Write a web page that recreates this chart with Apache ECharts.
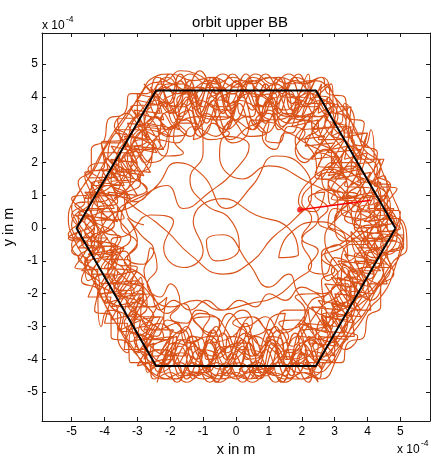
<!DOCTYPE html>
<html>
<head>
<meta http-equiv="Content-Type" content="text/html; charset=UTF-8">
<title>orbit upper BB</title>
<script type="text/javascript" src="https://cdn.jsdelivr.net/npm/echarts@6/dist/echarts.min.js"></script>
<style>
  html, body { margin: 0; padding: 0; background: #fff; }
</style>
</head>
<body>
    <div id="main" style="width: 431px; height: 458px;"></div>
    <script type="text/javascript">
        // coordinates in units of 1e-4 m (the axes say "x 10^-4")
        var xTicks = [-5, -4, -3, -2, -1, 0, 1, 2, 3, 4, 5];
        var yTicks = [-5, -4, -3, -2, -1, 0, 1, 2, 3, 4, 5];

        // hexagon boundary
        var hexX = [4.85, 2.43, -2.43, -4.85, -2.43, 2.43, 4.85];
        var hexY = [0, 4.2, 4.2, 0, -4.2, -4.2, 0];

        // red arrow: tail -> head (dot)
        var arrowX = [4.1, 1.95];
        var arrowY = [0.85, 0.56];

        // orbit (units 1e-4 m)
        var passA = [[4.5,-0.3],[4.2,0.4],[4.4,1.0],[3.9,1.5],[3.5,1.3],[3.7,1.9],[3.4,2.6],[2.9,2.9],[3.1,3.4],[2.6,3.9],[2.0,3.7],[1.6,4.2],[1.0,4.0],[0.8,3.4],[1.2,3.2],[1.1,3.7],[0.4,4.1],[-0.2,3.8],[-0.7,4.3],[-1.4,4.0],[-1.9,3.5],[-2.4,3.9],[-2.8,3.4],[-2.7,2.7],[-3.3,2.5],[-3.6,2.9],[-3.9,2.2],[-3.4,1.7],[-3.9,1.2],[-4.5,0.8],[-4.3,0.1],[-4.7,-0.4],[-4.1,-0.9],[-3.6,-1.4],[-4.0,-1.9],[-3.4,-2.4],[-2.9,-2.1],[-3.1,-2.9],[-2.6,-3.6],[-2.0,-3.9],[-1.6,-3.4],[-1.0,-3.8],[-0.5,-4.3],[0.1,-3.9],[0.6,-3.3],[1.1,-3.7],[1.7,-4.2],[2.3,-3.8],[2.8,-3.3],[2.6,-2.7],[3.2,-2.5],[3.7,-2.0],[3.4,-1.4],[4.1,-1.1]];
        var passB = [[4.9,-0.2],[4.7,0.5],[4.3,1.3],[4.4,1.9],[3.9,2.4],[3.6,3.1],[3.2,3.6],[2.8,4.3],[2.3,4.5],[1.6,4.4],[1.0,4.6],[0.5,4.4],[-0.1,4.6],[-0.6,4.4],[-1.2,4.7],[-1.7,4.8],[-2.1,4.5],[-2.6,4.4],[-3.0,3.9],[-3.4,3.4],[-3.8,2.8],[-4.2,2.1],[-4.5,1.5],[-4.9,0.9],[-5.1,0.3],[-4.9,-0.4],[-4.5,-1.1],[-4.2,-1.8],[-3.9,-2.5],[-3.5,-3.1],[-3.1,-3.7],[-2.7,-4.3],[-2.2,-4.6],[-1.6,-4.4],[-1.0,-4.6],[-0.3,-4.4],[0.4,-4.6],[1.1,-4.4],[1.8,-4.6],[2.4,-4.5],[2.8,-4.0],[3.3,-3.4],[3.6,-2.8],[4.0,-2.2],[4.4,-1.6],[4.8,-1.0],[5.2,-0.6]];
        var passC = [[3.3,-0.4],[3.0,0.3],[3.4,0.8],[3.0,1.4],[2.4,1.6],[2.6,2.2],[2.1,2.6],[1.5,2.9],[1.2,2.4],[0.8,2.8],[1.0,3.3],[0.4,3.1],[-0.2,2.7],[-0.7,3.2],[-1.1,2.8],[-1.5,3.3],[-2.0,2.9],[-2.1,2.3],[-2.6,2.0],[-3.0,2.4],[-3.2,1.7],[-2.7,1.2],[-3.3,0.8],[-3.5,0.1],[-3.0,-0.5],[-3.4,-1.0],[-2.8,-1.5],[-2.5,-2.1],[-2.1,-2.6],[-1.6,-2.3],[-1.2,-2.9],[-0.7,-3.2],[-0.2,-2.6],[0.3,-3.0],[0.9,-2.7],[1.4,-3.2],[2.0,-2.8],[2.3,-2.2],[2.8,-2.0],[3.1,-1.4],[2.6,-0.9],[3.2,-0.6]];
        var passD = [[4.6,0.4],[4.0,-0.4],[4.5,-1.2],[4.1,-1.9],[3.5,-2.3],[3.3,-3.0],[2.8,-3.6],[2.2,-4.3],[1.5,-3.9],[0.9,-4.5],[0.4,-4.0],[-0.3,-3.6],[-0.9,-4.2],[-1.5,-4.5],[-2.0,-4.0],[-2.5,-4.2],[-2.9,-3.4],[-3.4,-2.9],[-3.0,-2.3],[-3.7,-2.0],[-4.4,-1.4],[-4.0,-0.7],[-4.6,-0.1],[-4.2,0.6],[-4.4,1.3],[-3.7,1.6],[-3.5,2.3],[-3.1,3.0],[-2.5,3.4],[-2.2,4.2],[-1.6,4.4],[-1.0,3.7],[-0.4,4.2],[0.2,4.5],[0.8,4.1],[1.5,3.6],[2.1,4.2],[2.6,3.6],[3.1,2.9],[3.6,2.6],[3.5,1.8],[4.1,1.4],[4.6,0.9]];
        var passE = [[4.0,0.2],[4.4,0.6],[4.0,1.0],[3.7,0.6],[4.1,0.3],[3.8,1.4],[3.2,2.0],[3.5,2.5],[3.8,2.1],[3.4,1.8],[2.9,2.4],[2.5,3.2],[2.9,3.6],[2.4,4.0],[1.9,3.4],[1.3,3.7],[1.6,4.1],[1.9,3.8],[1.2,3.3],[0.6,3.6],[0.2,4.2],[-0.3,4.0],[-0.1,3.5],[-0.6,3.3],[-1.2,3.7],[-1.0,4.2],[-1.5,4.3],[-1.7,3.8],[-2.3,3.3],[-2.0,2.8],[-2.7,3.0],[-3.2,2.2],[-2.9,1.6],[-3.5,1.4],[-3.9,1.8],[-4.1,1.2],[-3.6,0.6],[-3.9,0.0],[-4.4,-0.3],[-4.2,-0.8],[-3.7,-0.7],[-3.9,-1.3],[-3.5,-2.0],[-3.0,-2.6],[-2.7,-3.1],[-3.1,-3.4],[-2.4,-3.9],[-1.9,-3.5],[-1.3,-3.9],[-1.5,-4.3],[-0.9,-4.4],[-0.4,-3.7],[0.3,-3.5],[0.6,-4.0],[0.1,-4.3],[0.8,-4.4],[1.4,-3.9],[1.9,-3.3],[2.5,-3.6],[2.4,-4.1],[2.9,-3.7],[3.4,-2.8],[3.0,-2.2],[3.6,-1.7],[4.2,-1.4],[3.9,-0.8],[4.5,-0.5]];
        var passF = [[5.0,0.3],[4.8,0.9],[4.5,1.6],[4.2,2.3],[3.7,2.8],[3.4,3.5],[3.0,4.0],[2.6,4.6],[2.0,4.4],[1.3,4.6],[0.6,4.5],[0.0,4.3],[-0.7,4.6],[-1.3,4.5],[-2.0,4.7],[-2.5,4.6],[-2.9,4.1],[-3.2,3.6],[-3.6,3.0],[-4.0,2.4],[-4.3,1.8],[-4.7,1.2],[-5.0,0.6],[-4.8,0.0],[-5.0,-0.5],[-4.7,-1.0],[-4.4,-1.5],[-4.0,-2.3],[-3.7,-2.8],[-3.3,-3.5],[-2.9,-4.0],[-2.4,-4.5],[-1.9,-4.6],[-1.2,-4.4],[-0.6,-4.6],[0.1,-4.5],[0.8,-4.3],[1.5,-4.6],[2.1,-4.4],[2.6,-4.6],[3.1,-3.9],[3.4,-3.2],[3.9,-2.6],[4.2,-2.0],[4.6,-1.4],[5.0,-0.8],[5.1,-0.2]];
        var passG = [[4.3,0.3],[3.2,0.9],[2.2,1.4],[1.0,1.9],[0.2,1.5],[-0.5,2.2],[-0.3,2.8],[0.4,2.5],[0.0,1.8],[-0.8,1.1],[-1.6,0.6],[-2.1,1.3],[-2.8,1.0],[-3.6,0.4]];
        var passH = [[-3.2,-0.3],[-3.8,-0.9],[-3.3,-1.6],[-2.8,-1.9],[-2.9,-2.6],[-2.4,-3.1],[-1.8,-2.9],[-1.5,-3.5],[-0.8,-3.3],[-0.3,-3.8],[0.3,-3.2],[0.8,-3.6],[1.3,-3.1],[1.7,-3.6],[2.1,-3.1],[2.6,-2.4],[3.2,-1.9],[2.9,-1.3],[3.6,-0.9],[3.9,-0.3],[3.5,0.5],[3.9,1.1],[3.3,1.6],[3.0,2.3],[2.4,2.7],[2.2,3.3],[1.6,3.2],[1.0,3.6],[0.5,3.0],[-0.1,3.3],[-0.6,2.8],[-1.3,3.1],[-1.8,2.6],[-2.4,2.7],[-2.6,2.1],[-3.2,1.3],[-3.7,0.9],[-2.6,2.6],[-1.2,3.4]];
        var passI = [[-1.0,2.3],[-1.4,1.5],[-0.9,0.7],[-0.2,0.3],[0.1,-0.6],[-0.6,-1.0],[-0.9,-0.4],[-0.4,-0.2],[0.4,-1.1],[1.0,-1.8],[1.6,-1.4],[1.9,-2.0],[2.5,-2.6]];
        var passJ = [[3.0,-2.7],[3.8,-2.3],[4.3,-1.8],[4.7,-1.2],[4.4,-0.5],[4.9,0.1],[4.6,0.7],[4.1,1.2],[4.3,1.8],[3.8,2.3],[3.4,2.9],[3.3,3.4],[2.7,3.6],[2.4,4.2],[1.8,4.0],[1.2,4.4],[0.6,4.0],[0.1,4.4],[-0.5,3.9],[-1.1,4.3],[-1.8,4.1],[-2.3,4.4],[-2.6,3.7],[-3.1,3.3],[-3.4,2.7],[-4.1,2.6],[-4.0,1.9],[-4.6,1.6],[-4.4,0.9],[-4.8,0.3],[-4.4,-0.5],[-4.8,-0.9],[-4.2,-1.4],[-4.1,-2.1],[-3.6,-2.5],[-3.6,-3.1],[-3.0,-3.2],[-2.6,-3.9],[-2.3,-4.4],[-1.7,-4.1],[-1.2,-4.5],[-0.6,-4.1],[0.0,-4.6],[0.6,-4.2],[1.2,-4.5],[1.9,-4.1],[2.5,-4.4],[2.9,-4.1],[3.2,-3.6],[3.7,-3.0],[4.1,-2.4],[4.4,-2.1],[4.7,-1.6]];
        var passK = [[4.2,-0.9],[3.4,-0.2],[2.5,0.2],[1.6,-0.2],[1.3,-0.9],[1.9,-0.8],[1.6,0.0],[0.6,0.4],[-0.4,0.9],[-1.3,0.2],[-1.0,-0.7],[-1.6,-1.2],[-2.2,-0.6],[-1.9,0.2],[-2.6,0.4],[-3.3,-0.2]];
        var passL = [[-3.8,-0.4],[-3.6,-1.1],[-3.0,-1.2],[-3.2,-1.8],[-2.6,-2.4],[-2.1,-2.1],[-2.2,-2.8],[-1.7,-3.2],[-1.1,-2.6],[-0.5,-2.9],[-0.8,-3.5],[-0.1,-3.3],[0.5,-2.7],[1.0,-3.1],[1.5,-2.5],[2.2,-2.5],[2.0,-3.1],[2.7,-3.0],[3.0,-2.4],[3.5,-2.1],[3.3,-1.2],[2.8,-1.6],[2.6,-0.8],[3.3,-0.4],[3.8,0.3],[3.4,1.0],[2.9,0.7],[2.8,1.3],[3.2,1.9],[2.7,2.4],[2.2,2.1],[1.8,2.7],[2.1,3.2],[1.5,3.5],[0.9,2.9],[0.3,3.4],[-0.3,3.0],[-0.9,3.5],[-1.4,2.8],[-1.9,3.1],[-2.3,2.4],[-2.9,2.7],[-3.3,2.1],[-2.9,1.4],[-3.5,1.0],[-4.1,0.5]];
        var passM = [[-4.6,0.2],[-4.3,-0.4],[-4.6,-1.2],[-4.1,-1.7],[-3.8,-2.4],[-3.3,-2.7],[-3.1,-3.3],[-2.8,-3.9],[-2.2,-4.2],[-1.7,-3.8],[-1.1,-4.1],[-0.5,-4.5],[0.1,-4.1],[0.7,-4.5],[1.3,-4.1],[1.9,-4.4],[2.2,-3.9],[2.7,-3.9],[3.1,-3.3],[3.5,-2.6],[3.9,-2.0],[4.3,-1.3],[4.6,-0.6],[4.4,0.0],[4.7,0.6],[4.3,1.5],[4.0,2.0],[3.6,2.3],[3.5,3.0],[3.0,3.3],[2.9,3.9],[2.3,4.1],[1.8,4.5],[1.1,4.2],[0.5,4.5],[-0.1,4.1],[-0.8,4.5],[-1.5,4.2],[-2.0,4.4],[-2.5,4.1],[-2.8,3.7],[-3.3,3.1],[-3.6,2.5],[-4.0,2.0],[-4.3,1.4],[-4.6,0.9]];
        var passN = [[-3.8,1.0],[-2.9,0.5],[-2.1,-0.1],[-1.4,-0.8],[-0.4,-1.4],[0.5,-1.0],[1.1,-0.3],[1.8,0.3],[2.3,1.0],[2.0,1.9],[1.2,2.2],[0.5,1.3],[-0.3,0.6],[-1.0,1.6],[-1.8,2.0],[-2.4,1.3],[-3.1,0.7],[-3.9,0.3]];
        var passO = [[-4.2,-0.5],[-3.5,-0.6],[-3.7,-1.5],[-3.1,-1.9],[-3.3,-2.3],[-2.7,-2.8],[-2.2,-3.3],[-2.6,-3.7],[-1.9,-4.2],[-1.3,-3.6],[-0.7,-3.9],[-0.1,-3.6],[0.5,-3.9],[1.1,-3.4],[1.6,-3.8],[2.2,-3.4],[2.6,-3.1],[3.3,-2.3],[3.9,-1.7],[3.7,-1.1],[4.3,-0.9],[4.1,-0.2],[3.6,0.0],[3.7,0.6],[4.2,0.8],[4.0,1.5],[3.5,2.1],[3.1,2.6],[2.7,3.2],[3.0,3.6],[2.5,3.4],[2.0,3.9],[1.3,4.0],[0.7,3.7],[0.1,3.9],[-0.5,3.6],[-1.1,3.9],[-1.7,3.4],[-2.1,3.8],[-2.6,3.2],[-3.0,2.8],[-3.3,2.3],[-3.8,1.7],[-4.2,1.0],[-4.4,0.5]];
        var passP = [[-4.0,-0.2],[-3.4,-1.0],[-2.8,-1.8],[-2.0,-2.4],[-1.2,-2.2],[-0.5,-2.5],[0.4,-2.3],[1.2,-2.1],[1.8,-1.6],[2.3,-1.1],[2.0,-0.4],[2.5,0.3],[2.2,0.9],[2.7,1.1],[2.4,0.5],[1.9,0.8],[2.3,1.5],[2.9,1.8],[3.4,1.2],[3.1,0.4],[2.7,-0.3],[3.0,-1.0],[3.6,-1.5],[4.1,-0.6],[4.6,0.1]];

        // band passes written in tenths (units 1e-5 m)
        var zig1 = [[49,3],[39,2],[46,10],[36,9],[41,17],[30,15],[38,24],[28,23],[33,31],[23,30],[30,38],[21,38],[24,45],[17,36],[14,46],[8,35],[4,45],[-2,36],[-6,46],[-11,35],[-14,45],[-19,37],[-23,46],[-21,37],[-30,39],[-24,31],[-33,32],[-29,23],[-38,25],[-31,15],[-41,18],[-36,10],[-46,11],[-39,3],[-49,4],[-43,-2],[-49,-3],[-39,-3],[-46,-10],[-36,-8],[-41,-17],[-30,-16],[-38,-24],[-28,-22],[-33,-31],[-23,-29],[-30,-38],[-21,-37],[-24,-45],[-17,-36],[-13,-46],[-8,-35],[-3,-45],[2,-36],[7,-46],[11,-35],[15,-45],[19,-37],[23,-46],[21,-37],[30,-39],[24,-31],[33,-32],[29,-23],[38,-25],[31,-15],[41,-18],[36,-10],[46,-11],[39,-3],[49,-4]];
        var zig2 = [[46,4],[36,2],[42,11],[32,9],[38,18],[28,16],[34,25],[24,23],[30,31],[20,30],[26,38],[19,33],[15,43],[9,32],[5,42],[0,33],[-4,43],[-9,32],[-13,42],[-17,33],[-21,43],[-26,38],[-20,30],[-30,31],[-24,23],[-34,25],[-28,16],[-38,18],[-32,9],[-42,11],[-36,2],[-46,4],[-41,-3],[-45,-8],[-34,-6],[-40,-15],[-30,-13],[-36,-21],[-26,-20],[-32,-28],[-22,-27],[-27,-36],[-18,-33],[-19,-42],[-13,-33],[-9,-43],[-4,-32],[1,-42],[5,-33],[10,-43],[14,-32],[18,-42],[22,-34],[27,-37],[21,-29],[31,-30],[25,-22],[35,-24],[29,-15],[39,-17],[33,-8],[43,-10],[37,-1],[47,-2]];
        var zig3 = [[51,-2],[42,-5],[47,-12],[38,-12],[42,-20],[33,-19],[38,-27],[29,-26],[34,-34],[25,-33],[29,-41],[21,-41],[25,-47],[19,-38],[14,-47],[9,-37],[4,-46],[-1,-38],[-6,-47],[-10,-37],[-15,-46],[-19,-38],[-24,-47],[-22,-40],[-30,-42],[-25,-33],[-34,-35],[-30,-26],[-38,-28],[-33,-19],[-42,-20],[-37,-12],[-47,-13],[-41,-5],[-51,-3],[-43,2],[-49,7],[-39,9],[-45,15],[-35,16],[-41,23],[-31,23],[-37,30],[-27,30],[-32,37],[-23,38],[-28,44],[-21,38],[-17,47],[-12,37],[-7,46],[-2,38],[3,47],[8,37],[13,46],[17,38],[22,47],[23,39],[29,44],[30,35],[35,37],[34,28],[40,29],[37,21],[44,21],[40,14],[47,13],[42,6],[50,5]];
        var zig4 = [[40,-1],[33,3],[37,8],[29,9],[34,15],[26,15],[31,22],[23,21],[27,28],[19,27],[23,35],[16,33],[19,39],[13,30],[10,39],[5,30],[1,38],[-4,29],[-8,38],[-12,30],[-16,38],[-19,31],[-22,35],[-24,28],[-28,30],[-29,22],[-34,22],[-32,15],[-38,14],[-36,8],[-42,6],[-37,1],[-43,-3],[-36,-6],[-40,-12],[-32,-13],[-36,-20],[-28,-20],[-32,-27],[-23,-27],[-27,-34],[-19,-33],[-20,-40],[-15,-30],[-11,-39],[-6,-30],[-2,-40],[3,-29],[7,-39],[12,-30],[16,-40],[20,-31],[23,-36],[26,-28],[29,-31],[30,-22],[34,-24],[33,-15],[39,-16],[36,-8],[42,-7],[38,0]];
        var zig5 = [[47,-1],[38,-5],[44,-13],[35,-13],[40,-21],[31,-20],[36,-29],[27,-27],[31,-36],[23,-35],[26,-43],[20,-38],[17,-45],[12,-36],[8,-44],[4,-35],[0,-45],[-5,-36],[-9,-44],[-13,-35],[-17,-45],[-21,-37],[-26,-44],[-25,-35],[-31,-38],[-29,-28],[-35,-31],[-33,-21],[-40,-23],[-37,-14],[-44,-14],[-40,-6],[-48,-6],[-43,0],[-48,5],[-40,6],[-44,13],[-35,13],[-40,21],[-31,20],[-36,29],[-27,27],[-31,36],[-23,35],[-26,43],[-20,38],[-17,45],[-12,36],[-8,44],[-4,35],[0,45],[5,36],[9,44],[13,35],[17,45],[21,37],[26,44],[25,35],[31,38],[29,28],[35,31],[33,21],[40,23],[37,14],[44,14],[40,6],[48,6],[43,0]];
        var zig6 = [[40,2],[32,5],[37,10],[29,12],[33,18],[25,19],[30,26],[21,25],[25,33],[17,31],[20,39],[14,31],[11,40],[6,31],[2,40],[-3,30],[-7,39],[-11,31],[-15,40],[-19,32],[-21,39],[-17,30],[-27,32],[-22,24],[-31,25],[-26,17],[-35,18],[-30,10],[-39,11],[-34,3],[-43,2],[-36,-3],[-41,-9],[-32,-10],[-37,-17],[-28,-17],[-33,-24],[-24,-24],[-28,-31],[-19,-31],[-23,-38],[-16,-31],[-12,-40],[-7,-31],[-3,-40],[2,-30],[6,-39],[10,-31],[14,-40],[18,-32],[22,-39],[19,-29],[28,-32],[23,-24],[32,-25],[27,-17],[36,-18],[31,-10],[40,-11],[35,-3],[43,-3]];
        var zig7 = [[51,-6],[44,-9],[46,-17],[40,-17],[41,-25],[35,-25],[36,-33],[30,-33],[30,-41],[25,-40],[22,-47],[17,-41],[12,-47],[7,-41],[2,-47],[-3,-41],[-8,-47],[-13,-41],[-18,-47],[-22,-41],[-27,-44],[-28,-37],[-34,-37],[-33,-29],[-40,-29],[-38,-21],[-45,-21],[-42,-13],[-49,-12],[-45,-5],[-51,-2],[-46,4],[-50,9],[-43,11],[-46,17],[-39,18],[-41,26],[-35,26],[-36,33],[-30,34],[-30,41],[-25,40],[-20,47],[-16,41],[-11,48],[-6,41],[-1,47],[4,41],[9,47],[14,41],[19,47],[23,41],[28,44],[29,37],[34,37],[33,29],[40,29],[38,21],[45,21],[42,13],[49,12],[45,5],[50,0]];
        var zig8 = [[43,-1],[44,5],[37,6],[41,12],[33,13],[37,20],[29,20],[33,27],[25,27],[28,34],[20,34],[22,41],[17,34],[12,42],[8,34],[3,42],[-2,34],[-6,43],[-11,34],[-15,42],[-20,35],[-24,41],[-22,33],[-30,35],[-26,27],[-34,28],[-30,20],[-38,21],[-34,13],[-42,14],[-37,6],[-45,6],[-42,-1],[-44,-5],[-37,-6],[-41,-12],[-33,-13],[-37,-20],[-29,-20],[-33,-27],[-25,-27],[-28,-34],[-20,-34],[-22,-41],[-17,-34],[-12,-42],[-8,-34],[-3,-42],[2,-34],[6,-43],[11,-34],[15,-42],[20,-35],[24,-41],[22,-33],[30,-35],[26,-27],[34,-28],[30,-20],[38,-21],[34,-13],[42,-14],[37,-6],[45,-6],[42,1]];
        var curl1 = [[46,0],[50,-4],[46,-8],[42,-4],[44,-10],[40,-15],[44,-18],[41,-22],[36,-18],[36,-25],[33,-31],[37,-33],[33,-37],[29,-33],[26,-38],[24,-43],[20,-46],[17,-42],[21,-39],[16,-37],[11,-41],[7,-46],[4,-43],[8,-39],[2,-37],[-3,-42],[-5,-46],[-9,-43],[-6,-39],[-11,-37],[-15,-42],[-18,-46],[-22,-43],[-19,-39],[-24,-37],[-28,-40],[-27,-34],[-32,-32],[-33,-38],[-36,-33],[-35,-27],[-39,-25],[-41,-30],[-42,-21],[-37,-19],[-40,-14],[-45,-16],[-46,-10],[-42,-7],[-47,-4],[-50,1],[-47,5],[-43,2],[-45,9],[-41,14],[-45,18],[-40,20],[-37,16],[-36,23],[-33,28],[-37,31],[-33,35],[-29,31],[-27,36],[-25,42],[-21,46],[-18,42],[-22,39],[-16,37],[-12,41],[-8,46],[-5,42],[-9,39],[-3,37],[2,41],[5,46],[9,43],[6,39],[11,37],[15,42],[18,46],[22,43],[19,39],[24,37],[28,40],[27,34],[32,32],[33,38],[36,33],[35,27],[39,25],[41,30],[42,21],[37,19],[40,14],[45,16],[46,10],[42,7],[47,4]];
        var curl2 = [[37,0],[34,5],[30,2],[31,8],[28,14],[32,17],[29,20],[25,16],[24,22],[21,27],[25,30],[20,33],[17,29],[13,31],[10,35],[6,33],[9,29],[4,28],[0,32],[-3,36],[-6,32],[-2,29],[-8,27],[-12,31],[-14,36],[-18,33],[-15,29],[-21,28],[-24,31],[-23,25],[-28,24],[-29,30],[-32,26],[-30,19],[-35,17],[-36,22],[-38,14],[-33,10],[-36,5],[-41,5],[-40,-1],[-35,-3],[-38,-9],[-34,-13],[-37,-18],[-32,-19],[-29,-15],[-28,-22],[-25,-27],[-29,-30],[-24,-33],[-21,-28],[-17,-30],[-14,-35],[-10,-32],[-13,-28],[-7,-27],[-3,-31],[0,-36],[3,-32],[-1,-29],[5,-27],[9,-31],[12,-36],[16,-33],[13,-29],[19,-28],[23,-31],[22,-25],[27,-24],[28,-30],[31,-26],[29,-19],[34,-17],[35,-22],[37,-14],[32,-10],[35,-5],[40,-5]];
        var curl3 = [[42,1],[39,-4],[35,-1],[36,-7],[40,-10],[37,-14],[33,-11],[32,-17],[35,-22],[31,-25],[28,-20],[26,-26],[29,-31],[25,-34],[22,-29],[19,-33],[20,-39],[15,-40],[14,-34],[10,-33],[8,-39],[3,-40],[2,-34],[-2,-33],[-4,-39],[-9,-40],[-10,-34],[-14,-33],[-16,-39],[-21,-38],[-20,-32],[-24,-29],[-28,-33],[-31,-29],[-27,-24],[-29,-19],[-34,-21],[-36,-16],[-32,-12],[-34,-7],[-39,-8],[-41,-3],[-37,1],[-38,6],[-42,9],[-39,13],[-35,11],[-32,15],[-35,20],[-31,24],[-28,20],[-25,25],[-28,30],[-24,34],[-21,30],[-17,33],[-18,39],[-13,41],[-11,35],[-7,34],[-5,40],[0,41],[1,35],[5,34],[7,40],[12,41],[13,35],[17,34],[19,40],[24,38],[23,32],[26,28],[30,32],[33,28],[29,23],[30,17],[35,19],[38,14],[34,10],[36,5],[41,5]];
        var curl4 = [[-30,-4],[-33,-9],[-28,-11],[-26,-6],[-24,-12],[-27,-17],[-23,-21],[-20,-17],[-17,-23],[-20,-27],[-15,-29],[-12,-25],[-8,-27],[-10,-31],[-5,-33],[-2,-28],[2,-25],[5,-29],[3,-33],[8,-32],[11,-27],[15,-26],[14,-31],[19,-30],[21,-25],[18,-21],[24,-20],[27,-23],[26,-16],[30,-13],[27,-8],[31,-5],[34,-9],[33,-2],[28,1],[30,6],[34,5],[32,11],[27,12],[26,17],[30,20],[25,23],[21,20],[18,24],[21,29],[16,31],[13,26],[9,27],[10,32],[5,33],[3,28],[-1,26],[-4,30],[-1,33],[-6,34],[-9,29],[-13,27],[-12,32],[-17,32],[-19,27],[-16,23],[-22,22],[-25,26],[-26,19],[-30,16],[-27,11],[-31,8],[-34,11],[-33,4],[-28,1]];
        var rim1 = [[48,2],[45,8],[47,13],[42,17],[43,23],[38,26],[39,32],[34,34],[33,40],[28,41],[26,46],[21,44],[16,47],[11,44],[6,47],[1,44],[-4,47],[-9,44],[-14,47],[-19,44],[-24,46],[-27,41],[-32,41],[-34,35],[-39,33],[-40,27],[-44,24],[-44,18],[-48,14],[-46,8],[-50,4],[-47,-2],[-50,-7],[-45,-10],[-47,-16],[-42,-19],[-43,-25],[-38,-27],[-38,-33],[-33,-35],[-32,-41],[-27,-41],[-25,-46],[-20,-44],[-15,-47],[-10,-44],[-5,-47],[0,-44],[5,-47],[10,-44],[15,-47],[20,-44],[25,-46],[27,-41],[32,-41],[34,-35],[39,-33],[40,-27],[44,-24],[44,-18],[48,-14],[46,-8],[51,-5]];
        var inner1 = [[44,-2],[36,-4],[30,-1],[25,2],[28,6],[24,10],[29,12],[33,9],[38,11],[34,15],[28,17],[24,14],[20,8],[23,3],[20,-3],[25,-7],[22,-12],[27,-14],[30,-9],[35,-12],[31,-17],[26,-20],[20,-18],[15,-22],[10,-20],[6,-24],[1,-22],[-4,-25],[-9,-22],[-14,-25],[-19,-22],[-23,-25],[-26,-19],[-28,-13],[-25,-7],[-29,-2],[-33,3]];

        function tenths(list) {
            return list.map(function (p) { return [p[0] / 10, p[1] / 10]; });
        }
        function pairs(xs, ys) {
            var out = [];
            for (var i = 0; i < xs.length; i++) out.push([xs[i], ys[i]]);
            return out;
        }

        // passes chained so that each one starts near where the previous ended
        var orbit = [].concat(passA, passB, tenths(zig1), passC, passD, tenths(curl1), passE,
                              passF, tenths(zig2), passG, passH, passI, passJ, tenths(zig3),
                              passK, passL, passM, passN, passO, passP, tenths(curl2),
                              tenths(zig4), tenths(rim1), tenths(zig5), tenths(zig6),
                              tenths(zig7), tenths(zig8), tenths(curl3), tenths(inner1),
                              tenths(curl4));

        var FONT = '"Liberation Sans", Arial, sans-serif';
        var AXC = '#1a1a1a';

        function axisX(pos, showLabel) {
            return {
                type: 'value', position: pos, min: -5.9, max: 5.9,
                axisLine: { show: true, onZero: false, lineStyle: { color: AXC, width: 1 } },
                axisTick: { show: true, inside: true, length: 4, customValues: xTicks, lineStyle: { color: AXC } },
                axisLabel: { show: showLabel, customValues: xTicks, color: '#000', fontSize: 12, fontFamily: FONT, margin: 5 },
                splitLine: { show: false },
                name: showLabel ? 'x in m' : '',
                nameLocation: 'middle', nameGap: 20,
                nameTextStyle: { color: '#000', fontSize: 14.5, fontFamily: FONT }
            };
        }
        function axisY(pos, showLabel) {
            return {
                type: 'value', position: pos, min: -5.88, max: 5.95,
                axisLine: { show: true, onZero: false, lineStyle: { color: AXC, width: 1 } },
                axisTick: { show: true, inside: true, length: 4, customValues: yTicks, lineStyle: { color: AXC } },
                axisLabel: { show: showLabel, customValues: yTicks, color: '#000', fontSize: 12, fontFamily: FONT, margin: 4 },
                splitLine: { show: false },
                name: showLabel ? 'y in m' : '',
                nameLocation: 'middle', nameGap: 20,
                nameTextStyle: { color: '#000', fontSize: 14.5, fontFamily: FONT }
            };
        }

        var myChart = echarts.init(document.getElementById('main'));
        myChart.setOption({
            animation: false,
            backgroundColor: '#fff',
            title: {
                text: 'orbit upper BB',
                left: 235, top: 10, textAlign: 'center',
                textStyle: { color: '#000', fontSize: 15, fontWeight: 'normal', fontFamily: FONT }
            },
            grid: { left: 42, top: 33, right: 1, bottom: 37, containLabel: false, outerBoundsMode: 'none' },
            xAxis: [axisX('bottom', true), axisX('top', false)],
            yAxis: [axisY('left', true), axisY('right', false)],
            graphic: [
                { type: 'text', left: 42, top: 20, style: { text: 'x 10', fontSize: 12, fontFamily: FONT, fill: '#000' } },
                { type: 'text', left: 66, top: 15, style: { text: '-4', fontSize: 8.5, fontFamily: FONT, fill: '#000' } },
                { type: 'text', left: 397, top: 444, style: { text: 'x 10', fontSize: 12, fontFamily: FONT, fill: '#000' } },
                { type: 'text', left: 421, top: 439, style: { text: '-4', fontSize: 8.5, fontFamily: FONT, fill: '#000' } }
            ],
            series: [
                {
                    name: 'orbit', type: 'line', data: orbit,
                    smooth: 0.5, showSymbol: false, silent: true,
                    lineStyle: { color: '#D95319', width: 1.15 }
                },
                {
                    name: 'hexagon', type: 'line', data: pairs(hexX, hexY),
                    showSymbol: false, silent: true,
                    lineStyle: { color: '#000', width: 2 }
                },
                {
                    name: 'arrow', type: 'line', data: pairs(arrowX, arrowY),
                    showSymbol: false, silent: true,
                    lineStyle: { color: '#FF0000', width: 1.5 }
                },
                {
                    name: 'head', type: 'scatter', data: [[arrowX[1], arrowY[1]]],
                    symbol: 'circle', symbolSize: 6, silent: true,
                    itemStyle: { color: '#FF0000' }
                }
            ]
        });
    </script>
</body>
</html>
